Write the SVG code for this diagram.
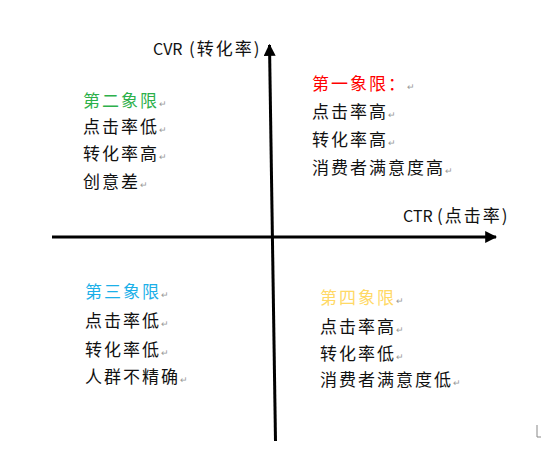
<svg xmlns="http://www.w3.org/2000/svg" width="545" height="451" viewBox="0 0 545 451">
<style>
text{font-family:"Noto Sans CJK SC","Microsoft YaHei",sans-serif;font-size:17px;letter-spacing:2px;fill:#111}
.m{font-size:9px;fill:#999;letter-spacing:0}
.axl{font-size:16px;letter-spacing:0}
.cj{font-size:17px;letter-spacing:2px}
.g{fill:#2db04b}.r{fill:#ff0000}.c{fill:#1cb0e8}.y{fill:#ffd966}
</style>
<defs>
<marker id="ah" viewBox="0 0 10 10" refX="9" refY="5" markerWidth="4" markerHeight="4" markerUnits="strokeWidth" orient="auto">
<path d="M0,0 L10,5 L0,10 Z" fill="#000"/>
</marker>
</defs>
<rect width="545" height="451" fill="#fff"/>
<g id="connectors" stroke="#000" stroke-width="3" fill="none">
<line x1="52" y1="237" x2="496" y2="237" marker-end="url(#ah)"/>
<line x1="275.5" y1="441" x2="269.5" y2="45" marker-end="url(#ah)"/>
</g>
<g id="axis-labels">
<text class="axl" x="153" y="55">CVR<tspan class="cj" x="189">(转化率)</tspan></text>
<text class="axl" x="403" y="222">CTR<tspan class="cj" x="437">(点击率)</tspan></text>
</g>
<g id="q1">
<text x="312" y="90"><tspan class="r">第一象限：</tspan><tspan class="m">↵</tspan></text>
<text x="312" y="118">点击率高<tspan class="m">↵</tspan></text>
<text x="312" y="146">转化率高<tspan class="m">↵</tspan></text>
<text x="312" y="174">消费者满意度高<tspan class="m">↵</tspan></text>
</g>
<g id="q2">
<text x="83" y="107"><tspan class="g">第二象限</tspan><tspan class="m">↵</tspan></text>
<text x="83" y="133">点击率低<tspan class="m">↵</tspan></text>
<text x="83" y="160">转化率高<tspan class="m">↵</tspan></text>
<text x="83" y="188">创意差<tspan class="m">↵</tspan></text>
</g>
<g id="q3">
<text x="85" y="298"><tspan class="c">第三象限</tspan><tspan class="m">↵</tspan></text>
<text x="85" y="327">点击率低<tspan class="m">↵</tspan></text>
<text x="85" y="356">转化率低<tspan class="m">↵</tspan></text>
<text x="85" y="383">人群不精确<tspan class="m">↵</tspan></text>
</g>
<g id="q4">
<text x="320" y="304"><tspan class="y">第四象限</tspan><tspan class="m">↵</tspan></text>
<text x="320" y="333">点击率高<tspan class="m">↵</tspan></text>
<text x="320" y="360">转化率低<tspan class="m">↵</tspan></text>
<text x="320" y="386">消费者满意度低<tspan class="m">↵</tspan></text>
</g>
<g id="corner-mark">
<polyline points="537,425 537,437 541,437" fill="none" stroke="#888" stroke-width="1"/>
</g>
</svg>
